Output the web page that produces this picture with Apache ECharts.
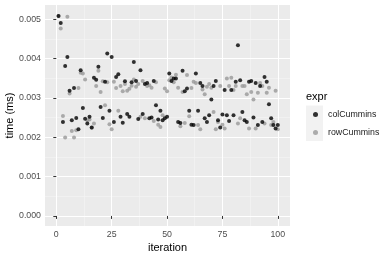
<!DOCTYPE html>
<html><head><meta charset="utf-8">
<script src="https://cdn.jsdelivr.net/npm/echarts@6/dist/echarts.min.js"></script>
<style>html,body{margin:0;padding:0;background:#fff}#c{width:390px;height:260px}</style>
</head><body><div id="c"></div>
<script>
var iterations = [];
for (var i = 1; i <= 100; i++) iterations.push(i);
var colCummins = [
5.08,4.90,2.39,3.81,4.04,3.18,2.43,3.25,2.49,2.20,
3.70,2.74,2.47,2.35,2.52,2.25,3.51,3.46,3.79,2.77,
2.49,3.41,4.13,2.67,4.04,2.39,3.53,3.60,2.52,2.37,
3.42,2.59,2.52,3.40,3.91,3.43,2.46,3.70,2.59,3.35,
3.38,2.48,2.50,3.43,2.81,2.45,2.67,2.43,2.48,2.52,
3.62,3.43,3.49,3.49,2.39,2.36,3.69,3.17,3.24,2.67,
2.32,2.31,3.62,2.67,3.38,3.30,2.48,2.39,2.56,2.96,
3.30,3.43,2.43,2.25,2.58,3.20,2.56,2.41,3.20,2.56,
3.41,4.34,3.45,2.64,2.43,2.39,3.41,3.43,2.50,3.38,
2.31,3.30,2.39,3.53,3.41,2.84,2.48,2.31,2.22,2.31];
var rowCummins = [
5.08,4.76,2.54,1.99,5.06,3.11,2.16,1.99,2.18,3.25,
3.64,3.62,3.47,2.43,2.45,2.24,2.35,3.30,3.69,3.15,
3.42,2.81,3.40,2.33,2.20,3.41,3.25,2.67,3.30,3.17,
3.35,3.18,3.23,3.31,3.47,3.28,3.35,2.52,3.43,2.48,
3.30,3.32,3.26,2.41,3.40,2.32,2.26,2.56,3.24,3.17,
3.45,3.52,3.40,3.59,3.26,2.28,3.15,2.36,3.58,2.53,
3.25,3.41,3.38,2.31,2.20,3.21,3.09,3.28,3.35,3.26,
2.64,2.20,2.39,3.30,2.32,2.22,3.49,3.30,3.51,3.20,
3.30,2.35,2.48,3.30,3.30,3.09,2.22,3.15,2.96,2.22,
3.13,3.38,3.30,2.35,3.13,3.26,2.31,2.39,3.18,2.20];
var xTicks = [0, 25, 50, 75, 100];
var xMinor = [12.5, 37.5, 62.5, 87.5];
var yTicks = [0, 0.001, 0.002, 0.003, 0.004, 0.005];
var yMinor = [0.0005, 0.0015, 0.0025, 0.0035, 0.0045];

function pairs(vals) { return vals.map(function (v, k) { return [iterations[k], v / 1000]; }); }

var XMIN = -5.1, XMAX = 105.5, YMIN = -0.000256, YMAX = 0.00536;
var font = 'Liberation Sans, Arial, sans-serif';
var chart = echarts.init(document.getElementById('c'), null, {renderer: 'canvas'});
chart.setOption({
  animation: false,
  backgroundColor: '#ffffff',
  grid: {left: 45, right: 100, top: 5, bottom: 34, show: true, backgroundColor: '#EBEBEB', borderWidth: 0,
         containLabel: false, outerBoundsMode: 'none'},
  xAxis: [
    {type: 'value', min: XMIN, max: XMAX, gridIndex: 0,
     axisLine: {show: false},
     axisTick: {show: true, length: 3, lineStyle: {color: '#333333', width: 1}, customValues: xTicks},
     axisLabel: {customValues: xTicks, color: '#4D4D4D', fontSize: 8.8, fontFamily: font, margin: 4},
     splitLine: {show: true, lineStyle: {color: '#ffffff', width: 1}},
     name: 'iteration', nameLocation: 'middle', nameGap: 16, nameMoveOverlap: false,
     nameTextStyle: {color: '#000000', fontSize: 11, fontFamily: font}, z: 1},
    {type: 'value', min: XMIN, max: XMAX, gridIndex: 0,
     axisLine: {show: false},
     axisTick: {show: true, length: 0, lineStyle: {opacity: 0}, customValues: xMinor},
     axisLabel: {show: false},
     splitLine: {show: true, lineStyle: {color: '#F5F5F5', width: 0.6}}, z: 0}
  ],
  yAxis: [
    {type: 'value', min: YMIN, max: YMAX, gridIndex: 0,
     axisLine: {show: false},
     axisTick: {show: true, length: 3, lineStyle: {color: '#333333', width: 1}, customValues: yTicks},
     axisLabel: {customValues: yTicks, color: '#4D4D4D', fontSize: 8.8, fontFamily: font, margin: 4,
                 formatter: function (v) { return v.toFixed(3); }},
     splitLine: {show: true, lineStyle: {color: '#ffffff', width: 1}},
     name: 'time (ms)', nameLocation: 'middle', nameGap: 30, nameRotate: 90, nameMoveOverlap: false,
     nameTextStyle: {color: '#000000', fontSize: 11, fontFamily: font}, z: 1},
    {type: 'value', min: YMIN, max: YMAX, gridIndex: 0,
     axisLine: {show: false},
     axisTick: {show: true, length: 0, lineStyle: {opacity: 0}, customValues: yMinor},
     axisLabel: {show: false},
     splitLine: {show: true, lineStyle: {color: '#F5F5F5', width: 0.6}}, z: 0}
  ],
  legend: {
    orient: 'vertical', left: 313, top: 109.5, itemWidth: 15, itemHeight: 5, itemGap: 8,
    icon: 'circle', symbolKeepAspect: true, padding: 0,
    textStyle: {color: '#1A1A1A', fontSize: 8.8, fontFamily: font, lineHeight: 10},
    data: ['colCummins', 'rowCummins']
  },
  graphic: [
    {type: 'rect', left: 306, top: 105.5, shape: {width: 17, height: 35.5}, style: {fill: '#F2F2F2'}, z: -1},
    {type: 'text', left: 306, top: 91, style: {text: 'expr', fill: '#000000', font: '11px ' + font}}
  ],
  series: [
    {name: 'rowCummins', type: 'scatter', data: pairs(rowCummins), symbolSize: 4,
     itemStyle: {color: '#999999'}, xAxisIndex: 0, yAxisIndex: 0},
    {name: 'colCummins', type: 'scatter', data: pairs(colCummins), symbolSize: 4,
     itemStyle: {color: '#000000'}, xAxisIndex: 0, yAxisIndex: 0}
  ]
});
</script></body></html>
